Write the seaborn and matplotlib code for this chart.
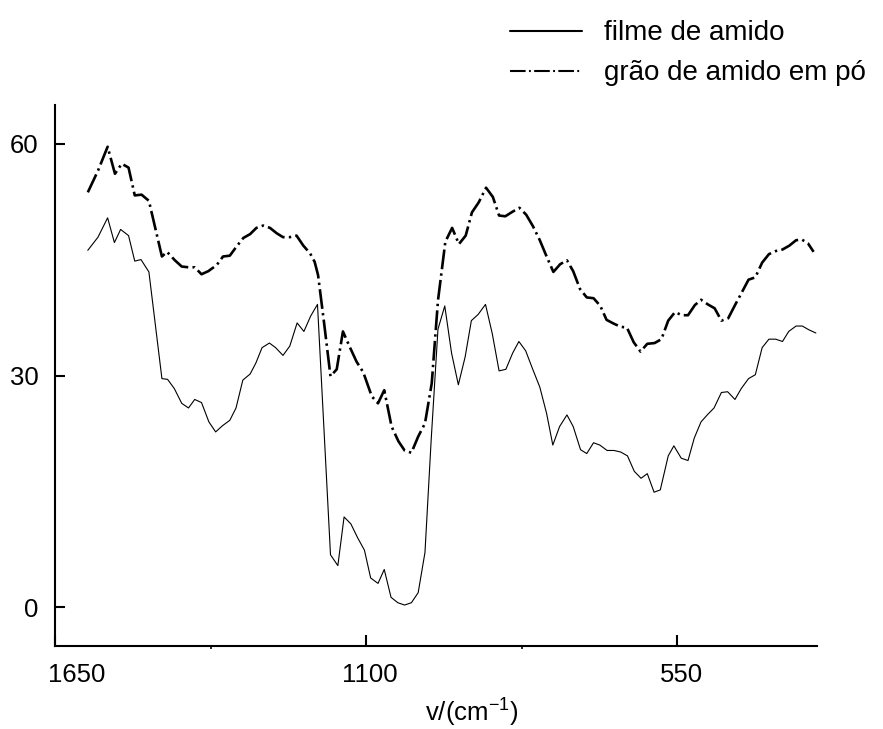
import matplotlib
matplotlib.use("Agg")
import matplotlib.pyplot as plt
import matplotlib.transforms as mtransforms
import seaborn as sns
import pandas as pd
from matplotlib.ticker import FixedLocator

# Wavenumber (cm^-1) and transmittance readings
film_wavenumber = [1592, 1574, 1557, 1545, 1534, 1520, 1509, 1498, 1484, 1461,
                   1451, 1439, 1426, 1414, 1403, 1391, 1378, 1366, 1354, 1341,
                   1330, 1318, 1305, 1295, 1284, 1271, 1260, 1247, 1235, 1222,
                   1210, 1198, 1186, 1163, 1150, 1139, 1127, 1115, 1103, 1092,
                   1079, 1068, 1056, 1044, 1032, 1020, 1008, 996, 985, 973,
                   961, 949, 937, 925, 914, 902, 889, 877, 865, 853,
                   841, 830, 818, 806, 793, 781, 770, 758, 745, 734,
                   721, 710, 698, 687, 674, 662, 650, 638, 626, 614,
                   603, 591, 580, 566, 556, 543, 531, 520, 508, 497,
                   485, 472, 461, 448, 437, 424, 412, 400, 388, 376,
                   364, 353, 340, 329, 317, 305]
film_value = [46.2, 47.9, 50.4, 47.2, 48.9, 48.1, 44.8, 45.0, 43.4, 29.6,
              29.5, 28.3, 26.4, 25.8, 26.9, 26.5, 24.0, 22.7, 23.5, 24.2,
              25.8, 29.4, 30.2, 31.6, 33.6, 34.2, 33.6, 32.6, 33.8, 36.8,
              35.7, 37.7, 39.2, 6.8, 5.4, 11.7, 10.8, 9.0, 7.4, 3.8,
              3.1, 4.9, 1.3, 0.6, 0.3, 0.6, 1.9, 7.1, 21.7, 36.0,
              39.0, 32.9, 28.8, 32.4, 37.1, 37.9, 39.2, 35.4, 30.6, 30.8,
              32.9, 34.4, 33.2, 30.9, 28.5, 25.1, 21.0, 23.4, 24.9, 23.4,
              20.4, 19.9, 21.3, 21.0, 20.3, 20.3, 20.1, 19.6, 17.6, 16.7,
              17.3, 14.9, 15.2, 19.6, 20.9, 19.3, 19.0, 21.9, 24.0, 24.9,
              25.8, 27.8, 27.9, 26.9, 28.3, 29.6, 30.1, 33.6, 34.7, 34.7,
              34.4, 35.7, 36.4, 36.4, 35.9, 35.5]

powder_wavenumber = [1592, 1574, 1557, 1544, 1532, 1520, 1509, 1497, 1484, 1461,
                     1452, 1438, 1426, 1414, 1403, 1391, 1379, 1364, 1353, 1341,
                     1329, 1317, 1305, 1294, 1282, 1270, 1258, 1247, 1235, 1223,
                     1211, 1199, 1191, 1185, 1175, 1163, 1152, 1141, 1129, 1117,
                     1105, 1090, 1079, 1068, 1055, 1043, 1032, 1020, 1008, 996,
                     984, 973, 960, 948, 936, 924, 913, 901, 888, 876,
                     865, 854, 841, 829, 817, 805, 793, 781, 769, 757,
                     745, 734, 722, 710, 698, 686, 675, 662, 650, 639,
                     627, 615, 603, 590, 578, 566, 554, 542, 531, 519,
                     508, 496, 484, 472, 460, 448, 437, 424, 412, 400,
                     388, 376, 364, 352, 340, 330, 319, 309]
powder_value = [53.7, 56.5, 59.6, 56.1, 57.4, 56.9, 53.3, 53.4, 52.6, 45.4,
                46.0, 44.9, 44.1, 44.0, 44.0, 43.1, 43.5, 44.3, 45.4, 45.5,
                46.7, 47.8, 48.3, 49.1, 49.4, 49.1, 48.4, 47.9, 47.9, 48.1,
                46.8, 45.8, 44.7, 43.0, 37.2, 29.9, 30.8, 35.7, 33.7, 31.8,
                30.4, 27.3, 26.4, 28.1, 23.4, 21.5, 20.3, 20.0, 22.1, 23.8,
                29.0, 39.7, 47.3, 49.1, 47.0, 48.1, 51.1, 52.4, 54.3, 53.1,
                50.7, 50.6, 51.2, 51.7, 50.8, 49.3, 47.5, 45.4, 43.4, 44.4,
                44.9, 43.5, 41.2, 40.1, 40.0, 39.0, 37.2, 36.7, 36.3, 36.2,
                34.3, 33.1, 34.1, 34.2, 34.7, 37.1, 38.2, 37.8, 37.8, 39.1,
                39.8, 39.2, 38.7, 37.1, 37.4, 39.1, 40.6, 42.4, 42.7, 44.6,
                45.7, 46.1, 46.3, 46.8, 47.5, 47.6, 47.1, 46.0]

series_labels = ["filme de amido", "grão de amido em pó"]
x_ticks = [1650, 1100, 550]
y_ticks = [0, 30, 60]

sns.set_theme(style="white")
plt.rcParams["font.family"] = ["Liberation Sans", "DejaVu Sans"]
plt.rcParams["mathtext.fontset"] = "custom"
plt.rcParams["mathtext.rm"] = "Liberation Sans"
plt.rcParams["mathtext.it"] = "Liberation Sans"
for key in ("text.color", "axes.labelcolor", "xtick.color", "ytick.color"):
    plt.rcParams[key] = "black"

film = pd.DataFrame({"wavenumber": film_wavenumber, "value": film_value})
powder = pd.DataFrame({"wavenumber": powder_wavenumber, "value": powder_value})

fig = plt.figure(figsize=(8.83, 7.29), dpi=100)
ax = fig.add_axes([55 / 883, 1 - 646 / 729, 762 / 883, 541 / 729])

sns.lineplot(data=film, x="wavenumber", y="value", ax=ax, color="black",
             linewidth=0.8, estimator=None, sort=False, label=series_labels[0])
sns.lineplot(data=powder, x="wavenumber", y="value", ax=ax, color="black",
             linewidth=1.9, estimator=None, sort=False, label=series_labels[1],
             linestyle=(0, (7.5, 1.6, 0.9, 1.6)))

ax.set_xlim(1650, 303)
ax.set_ylim(-5, 65)

for side in ("top", "right"):
    ax.spines[side].set_visible(False)
for side in ("left", "bottom"):
    ax.spines[side].set_linewidth(1.5)
    ax.spines[side].set_color("black")

tick_size = 18.5
ax.set_xticks(x_ticks)
ax.set_xticklabels([str(t) for t in x_ticks])
ax.xaxis.set_minor_locator(FixedLocator([1375, 825]))
ax.set_yticks(y_ticks)
ax.set_yticklabels([str(t) for t in y_ticks])
ax.tick_params(axis="x", which="major", direction="in", length=8, width=1.5,
               labelsize=tick_size, pad=12, bottom=True, color="black")
ax.tick_params(axis="x", which="minor", direction="out", length=2, width=1.2,
               bottom=True, color="black")
ax.tick_params(axis="y", which="major", direction="in", length=7, width=1.5,
               labelsize=tick_size, pad=12, left=True, color="black")

# nudge x tick labels to the right; the first one clears the left spine
for i, lbl in enumerate(ax.get_xticklabels()):
    dx = 22 if i == 0 else 4
    shift = mtransforms.ScaledTranslation(dx / 100, 0, fig.dpi_scale_trans)
    lbl.set_transform(lbl.get_transform() + shift)

ax.set_xlabel("v/(cm$^{-1}$)", fontsize=tick_size)
ax.set_ylabel("")
ax.xaxis.set_label_coords(0.547, -0.124)
ax.xaxis.label.set_verticalalignment("center")

handles, labels = ax.get_legend_handles_labels()
ax.legend_.remove()
leg = fig.legend(handles, labels, loc="upper left",
                 bbox_to_anchor=(510 / 883, 0.972),
                 frameon=False, fontsize=20, handlelength=2.6,
                 handletextpad=0.8, labelspacing=0.5, borderpad=0,
                 borderaxespad=0)
leg.get_lines()[0].set_linewidth(1.5)
leg.get_lines()[1].set_linewidth(1.5)

fig.savefig("out.png", dpi=100)
